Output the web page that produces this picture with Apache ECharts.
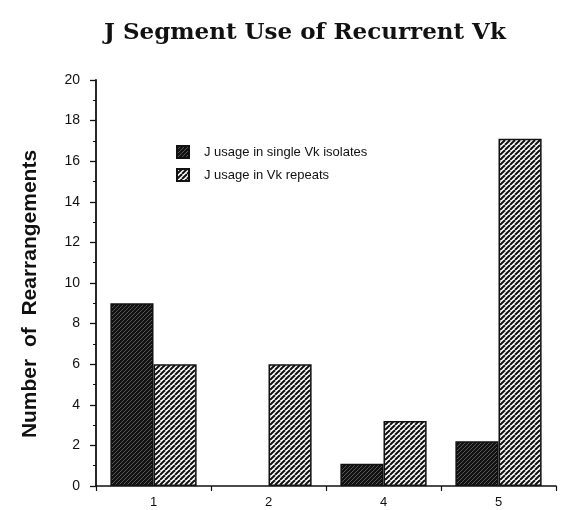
<!DOCTYPE html>
<html><head><meta charset="utf-8">
<script src="https://cdn.jsdelivr.net/npm/echarts@6/dist/echarts.min.js"></script>
<style>html,body{margin:0;padding:0;background:#fff}#c{width:561px;height:510px}</style>
</head><body><div id="c"></div>
<script>
var categories = ['1', '2', '4', '5'];
var isolates = [9, 0, 1.1, 2.2];
var repeats = [6, 6, 3.2, 17.1];
var seriesNames = ['J usage in single Vk isolates', 'J usage in Vk repeats'];
var titleText = 'J Segment Use of Recurrent Vk';
var yName = 'Number  of  Rearrangements';

function makePattern(bg, fg, step, lw) {
  var c = document.createElement('canvas');
  c.width = step; c.height = step;
  var ctx = c.getContext('2d');
  ctx.fillStyle = bg; ctx.fillRect(0, 0, step, step);
  ctx.strokeStyle = fg; ctx.lineWidth = lw;
  for (var k = -1; k <= 1; k++) {
    ctx.beginPath();
    ctx.moveTo(k * step, step);
    ctx.lineTo(k * step + step, 0);
    ctx.stroke();
  }
  return c;
}
var darkPat = { image: makePattern('#111', '#777', 4, 0.7), repeat: 'repeat' };
var lightPat = { image: makePattern('#fff', '#111', 5, 2), repeat: 'repeat' };
function noZero(arr) { return arr.map(function (v) { return v === 0 ? '-' : v; }); }

var chart = echarts.init(document.getElementById('c'), null, { renderer: 'canvas' });
chart.setOption({
  animation: false,
  backgroundColor: '#fff',
  graphic: [{
    type: 'text', left: 104, top: 22,
    style: { text: titleText, font: 'bold 23px "DejaVu Serif", serif', fill: '#111' }
  }, {
    type: 'text', x: 30, y: 294, rotation: Math.PI / 2,
    style: { text: yName, font: 'bold 21px "Liberation Sans", sans-serif', fill: '#111',
      textAlign: 'center', textVerticalAlign: 'middle' }
  }],
  legend: {
    orient: 'vertical', left: 171, top: 140, itemWidth: 12, itemHeight: 12, itemGap: 9,
    icon: 'rect',
    textStyle: { fontFamily: 'Liberation Sans', fontSize: 13, color: '#111', padding: [0, 0, 0, 10] },
    data: seriesNames
  },
  grid: { left: 96, right: 5, top: 80, bottom: 24 },
  xAxis: {
    type: 'category', data: categories,
    axisLine: { lineStyle: { color: '#111', width: 1.5 } },
    axisTick: { show: true, length: 5, lineStyle: { color: '#111', width: 1.2 } },
    axisLabel: { color: '#111', fontFamily: 'Liberation Sans', fontSize: 13, margin: 10 }
  },
  yAxis: {
    type: 'value', min: 0, max: 20, interval: 2,
    axisLine: { show: true, lineStyle: { color: '#111', width: 1.8 } },
    axisTick: { show: true, length: 6, lineStyle: { color: '#111', width: 1.3 } },
    minorTick: { show: true, splitNumber: 2, length: 3, lineStyle: { color: '#111' } },
    splitLine: { show: false },
    axisLabel: { color: '#111', fontFamily: 'Liberation Sans', fontSize: 14, margin: 16 }
  },
  series: [
    { name: seriesNames[0], type: 'bar', data: noZero(isolates), barGap: '0%', barCategoryGap: '25%',
      itemStyle: { color: darkPat, borderColor: '#111', borderWidth: 1.5 } },
    { name: seriesNames[1], type: 'bar', data: noZero(repeats), barGap: '0%', barCategoryGap: '25%',
      itemStyle: { color: lightPat, borderColor: '#111', borderWidth: 1.5 } }
  ]
});
</script></body></html>
